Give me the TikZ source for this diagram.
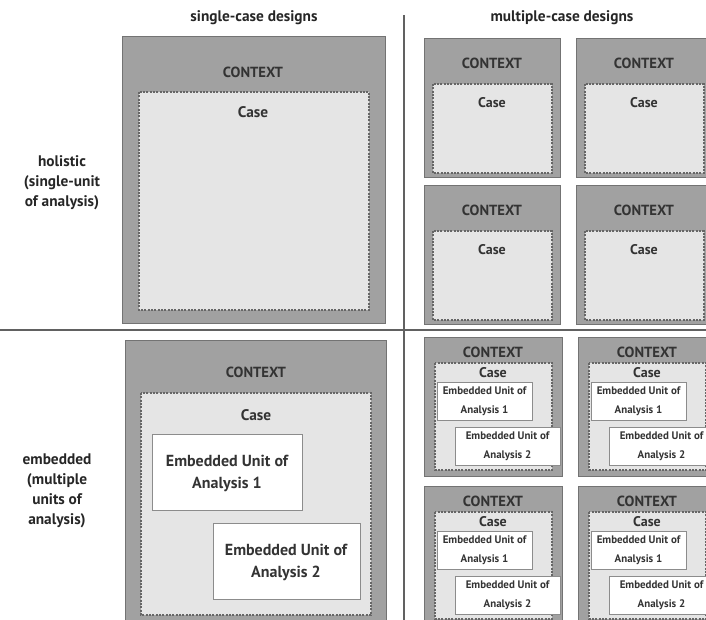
\documentclass[tikz,border=0pt]{standalone}
\usepackage{fontspec}
\setmainfont{PT Sans}
\tikzset{
	ctx/.style={draw=black!55, fill=black!37, line width=0.6pt},
	casebox/.style={draw=black!60, fill=black!10, line width=0.9pt, dash pattern=on 1.5pt off 1pt},
	unitbox/.style={draw=black!45, fill=white, line width=0.6pt},
	divider/.style={draw=black!62, line width=1.4pt},
	head/.style={font=\bfseries\fontsize{11.5}{15}\selectfont, text=black!85, align=center, inner sep=0pt},
	ctxtext/.style={font=\bfseries\fontsize{11}{12}\selectfont, text=black!80, inner sep=0pt},
	casetext/.style={font=\bfseries\fontsize{11.5}{12}\selectfont, text=black!80, inner sep=0pt},
	smallcase/.style={font=\bfseries\fontsize{10.5}{12}\selectfont, text=black!80, inner sep=0pt},
	unittext/.style={font=\bfseries\fontsize{12}{16.5}\selectfont, text=black!80, align=center, inner sep=0pt},
	smallunit/.style={font=\bfseries\fontsize{8.2}{14}\selectfont, text=black!80, align=center, inner sep=0pt}
}
% small holistic box: top left corner, name prefix
\def\holbox(#1,#2)#3{
	\begin{scope}[shift={(#1,#2)}]
		\draw[ctx] (0,0) rectangle (136,139);
		\draw[casebox] (9,46) rectangle (128,135);
		\node[ctxtext] (#3ctx) at (68,25) {CONTEXT};
		\node[smallcase] (#3case) at (68,65) {Case};
	\end{scope}
}
% small embedded box: top left corner, name prefix
\def\embbox(#1,#2)#3{
	\begin{scope}[shift={(#1,#2)}]
		\draw[ctx] (0,0) rectangle (138,139);
		\draw[casebox] (11,26) rectangle (128,133);
		\node[ctxtext] (#3ctx) at (69,15) {CONTEXT};
		\node[smallcase] (#3case) at (69,36) {Case};
		\draw[unitbox] (13,45) rectangle (108,83);
		\node[smallunit] (#3uone) at (60.5,64) {Embedded Unit of\\Analysis 1};
		\draw[unitbox] (31,90) rectangle (136,128);
		\node[smallunit] (#3utwo) at (83.5,109) {Embedded Unit of\\Analysis 2};
	\end{scope}
}

\begin{document}
\begin{tikzpicture}[x=0.75pt, y=-0.75pt]
			%%%%% START %%%%%
			\useasboundingbox (0,0) rectangle (706,620);
			
			\node[head] (single) at (254,18) {single-case designs};
			\node[head] (multiple) at (562,18) {multiple-case designs};
			\node[head] (holistic) at (62,183) {holistic\\(single-unit\\of analysis)};
			\node[head] (embedded) at (57,491) {embedded\\(multiple\\units of\\analysis)};
			
			\draw[divider] (404,15) -- (404,620);
			\draw[divider] (0,330) -- (706,330);
			
			% single-case holistic
			\draw[ctx] (122,36) rectangle (385,323);
			\draw[casebox] (139,92) rectangle (369,310);
			\node[ctxtext] (sctx) at (253,72) {CONTEXT};
			\node[casetext] (scase) at (253,112) {Case};
			
			% multiple-case holistic
			\holbox(424,38){ha}
			\holbox(576,38){hb}
			\holbox(424,185){hc}
			\holbox(576,185){hd}
			
			% single-case embedded
			\draw[ctx] (125,340) rectangle (386,630);
			\draw[casebox] (141,393) rectangle (371,615);
			\node[ctxtext] (ectx) at (256,372) {CONTEXT};
			\node[casetext] (ecase) at (256,415) {Case};
			\draw[unitbox] (152,434) rectangle (302,510);
			\node[unittext] (euone) at (227,473) {Embedded Unit of\\Analysis 1};
			\draw[unitbox] (213,523) rectangle (360,599);
			\node[unittext] (eutwo) at (286,562) {Embedded Unit of\\Analysis 2};
			
			% multiple-case embedded
			\embbox(424,337){ea}
			\embbox(578,337){eb}
			\embbox(424,486){ec}
			\embbox(578,486){ed}
			
			%%%%% END %%%%%
\end{tikzpicture}
\end{document}
